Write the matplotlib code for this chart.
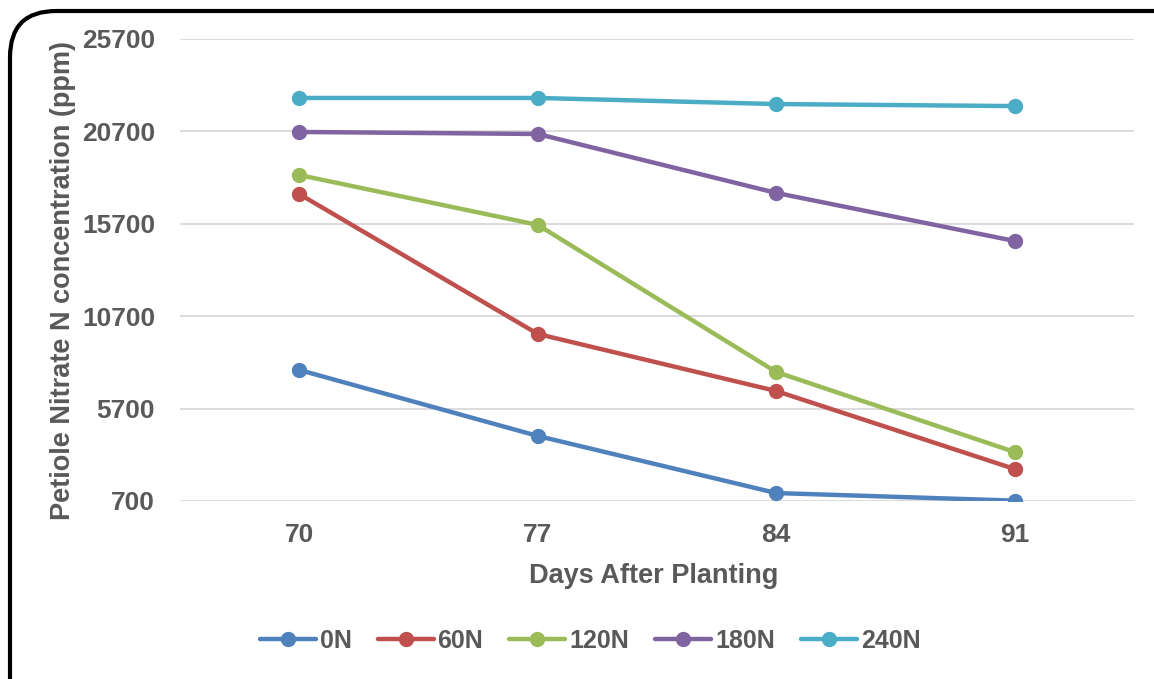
import matplotlib
matplotlib.use("Agg")
import matplotlib.pyplot as plt
from matplotlib.patches import FancyBboxPatch

days = ["70", "77", "84", "91"]
series_names = ["0N", "60N", "120N", "180N", "240N"]
n0 = [7790, 4220, 1130, 720]
n60 = [17310, 9740, 6650, 2430]
n120 = [18340, 15640, 7680, 3350]
n180 = [20670, 20560, 17370, 14770]
n240 = [22510, 22510, 22180, 22070]
colors = ["#4F81BD", "#C0504D", "#9BBB59", "#8064A2", "#4BACC6"]
yticks = [700, 5700, 10700, 15700, 20700, 25700]

plt.rcParams['font.family'] = ['Liberation Sans', 'DejaVu Sans']
plt.rcParams['font.weight'] = 'bold'
txt = "#595959"

fig = plt.figure(figsize=(11.54, 6.79), dpi=100)
W, H = 1154, 679
ax = fig.add_axes([180 / W, 1 - 501 / H, (1134 - 180) / W, (501 - 39) / H])

x = list(range(len(days)))
for name, vals, c in zip(series_names, [n0, n60, n120, n180, n240], colors):
    ax.plot(x, vals, color=c, lw=3.2, marker='o', markersize=10,
            solid_capstyle='round', label=name, zorder=3)

ax.set_xlim(-0.5, len(days) - 0.5)
ax.set_ylim(700, 25700)
ax.set_yticks(yticks)
ax.set_yticklabels([str(v) for v in yticks])
ax.set_xticks(x)
ax.set_xticklabels(days)
ax.grid(axis='y', color='#D9D9D9', lw=1.3, zorder=0)
ax.set_axisbelow(True)
for s in ax.spines.values():
    s.set_visible(False)
ax.tick_params(axis='y', length=0, labelsize=19, colors=txt, pad=18)
ax.tick_params(axis='x', length=0, labelsize=19, colors=txt, pad=15.5)
for lab in ax.get_xticklabels() + ax.get_yticklabels():
    lab.set_fontweight('bold')
fig.text(654 / W, 1 - 583 / H, "Days After Planting", fontsize=19.5, color=txt,
         fontweight='bold', ha='center', va='baseline')
fig.text(63 / W, 1 - 281 / H, "Petiole Nitrate N concentration (ppm)", rotation=90,
         fontsize=19.5, color=txt, fontweight='bold', ha='center', va='center')

leg = fig.legend(loc='center', bbox_to_anchor=(590 / W, 1 - 641 / H), ncol=5, frameon=False,
                 fontsize=18, handlelength=2.24, columnspacing=1.04, handletextpad=0.16,
                 borderpad=0, borderaxespad=0)
for t in leg.get_texts():
    t.set_color(txt)
    t.set_fontweight('bold')

border = FancyBboxPatch((10 / W, -0.2), 1.2, 1 - 11 / H + 0.2,
                        boxstyle="round,pad=0,rounding_size=0.04",
                        transform=fig.transFigure, fill=False, ec='black', lw=3,
                        mutation_aspect=W / H)
fig.patches.append(border)

fig.savefig("out.png", dpi=100)
